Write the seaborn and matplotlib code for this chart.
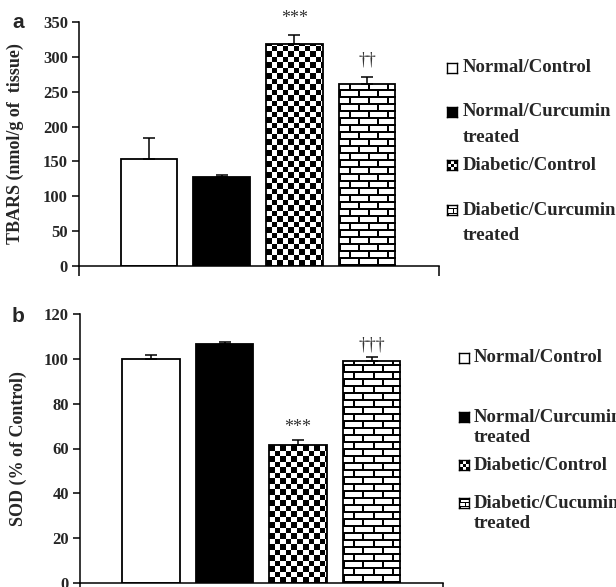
import numpy as np
import pandas as pd
import seaborn as sns
import matplotlib.pyplot as plt

sns.set_theme(style='ticks')
plt.rcParams['font.family'] = ['Liberation Serif', 'DejaVu Serif']
plt.rcParams['font.weight'] = 'bold'

W, H = 616, 587

groups = ['Normal/Control', 'Normal/Curcumin treated',
          'Diabetic/Control', 'Diabetic/Curcumin treated']
fills = ['white', 'black', 'checker', 'brick']

tbars = [153, 127, 318, 261]
tbars_err = [31, 3, 13, 10]
tbars_ticks = [0, 50, 100, 150, 200, 250, 300, 350]
tbars_marks = ['', '', '***', '\u2020\u2020']

sod = [100, 106.5, 61.5, 99]
sod_err = [1.8, 0.9, 2.2, 1.8]
sod_ticks = [0, 20, 40, 60, 80, 100, 120]
sod_marks = ['', '', '***', '\u2020\u2020\u2020']

legend_a = [['Normal/Control'], ['Normal/Curcumin', 'treated'],
            ['Diabetic/Control'], ['Diabetic/Curcumin', 'treated']]
legend_b = [['Normal/Control'], ['Normal/Curcumin', 'treated'],
            ['Diabetic/Control'], ['Diabetic/Cucumin', 'treated']]


def pattern(kind, w, h, scale=1.0):
    """0 = black, 1 = white pixel mask for a bar fill."""
    yy, xx = np.mgrid[0:h, 0:w]
    if kind == 'white':
        return np.ones((h, w))
    if kind == 'black':
        return np.zeros((h, w))
    if kind == 'checker':
        c = 5.5 * scale
        return ((xx // c + yy // c) % 2).astype(float)
    # brick
    bh, bw = 7.0 * scale, 19.0 * scale
    row = yy // bh
    off = (row % 2) * bw / 2
    mortar = ((yy % bh) < 2 * scale) | (((xx + off) % bw) < 2 * scale)
    return (~mortar).astype(float)


def fill_bar(ax, bar, kind):
    bb = bar.get_window_extent()
    w, h = max(int(round(bb.width)), 1), max(int(round(bb.height)), 1)
    x0, y0 = bar.get_x(), bar.get_y()
    im = ax.imshow(pattern(kind, w, h), cmap='gray', vmin=0, vmax=1,
                   extent=(x0, x0 + bar.get_width(), y0 + bar.get_height(), y0),
                   aspect='auto', interpolation='nearest', zorder=0.9)
    im.set_clip_path(bar)
    bar.set_facecolor('none')


def panel(rect, values, errs, ticks, marks, ylabel, mark_off, xlim, lab_x):
    ax = fig.add_axes(rect)
    df = pd.DataFrame({'group': groups, 'value': values})
    pal = {g: ('black' if f == 'black' else 'white') for g, f in zip(groups, fills)}
    sns.barplot(data=df, x='group', y='value', hue='group', order=groups,
                hue_order=groups, palette=pal, legend=False, errorbar=None,
                width=0.78, edgecolor='black', linewidth=1.3, ax=ax)
    ax.set_xlim(*xlim)
    ax.set_ylim(ticks[0], ticks[-1])
    bars = sorted(ax.patches, key=lambda p: p.get_x())
    xs = [b.get_x() + b.get_width() / 2 for b in bars]
    for b, f in zip(bars, fills):
        if f in ('checker', 'brick'):
            fill_bar(ax, b, f)
    ax.set_xlim(*xlim)
    ax.set_ylim(ticks[0], ticks[-1])
    ax.errorbar(xs, values, yerr=[np.zeros(len(errs)), errs], fmt='none',
                ecolor='black', elinewidth=1.1, capsize=4, capthick=1.1, zorder=3)
    for x, v, e, m in zip(xs, values, errs, marks):
        if m:
            ax.annotate(m, (x, v + e), xytext=(0, mark_off), textcoords='offset points',
                        ha='center', va='center', fontsize=13, fontweight='normal',
                        color='#333333')
    ax.set_yticks(ticks)
    ax.set_yticklabels([str(t) for t in ticks], fontsize=12, fontweight='bold')
    ax.set_xticks(list(xlim))
    ax.set_xticklabels([])
    ax.set_xlabel('')
    ax.set_ylabel(ylabel, fontsize=13, fontweight='bold')
    ax.yaxis.set_label_coords(lab_x, 0.5)
    ax.tick_params(axis='y', direction='out', length=5, width=1.1, color='black', pad=3)
    ax.tick_params(axis='x', direction='out', length=7, width=1.1, color='black')
    for s in ['top', 'right']:
        ax.spines[s].set_visible(False)
    for s in ['left', 'bottom']:
        ax.spines[s].set_linewidth(1.1)
        ax.spines[s].set_color('black')
    return ax


def draw_legend(rows, x_icon, x_text, ys, line_gap, size=10, fs=13.5):
    for lines, kind, y in zip(rows, fills, ys):
        iax = fig.add_axes([x_icon / W, 1 - (y + size / 2) / H, size / W, size / H])
        iax.imshow(pattern(kind, size, size, 0.55), cmap='gray', vmin=0, vmax=1,
                   aspect='auto', interpolation='nearest')
        iax.set_xticks([])
        iax.set_yticks([])
        for sp in iax.spines.values():
            sp.set_linewidth(1)
            sp.set_color('black')
        for i, line in enumerate(lines):
            fig.text(x_text / W, 1 - (y + i * line_gap) / H, line, fontsize=fs,
                     fontweight='bold', ha='left', va='center')


fig = plt.figure(figsize=(W / 100, H / 100), dpi=100)
fig.patch.set_facecolor('white')

panel([79 / W, 1 - 266 / H, 360 / W, 244 / H], tbars, tbars_err, tbars_ticks,
      tbars_marks, 'TBARS (nmol/g of  tissue)', 12, (-0.963, 3.99), -0.153)
panel([80 / W, 1 - 583 / H, 363 / W, 269 / H], sod, sod_err, sod_ticks,
      sod_marks, 'SOD (% of Control)', 9, (-0.966, 3.97), -0.146)

draw_legend(legend_a, 447, 463, [68, 112, 165, 210], 25)
draw_legend(legend_b, 459, 474, [358, 417, 465, 503], 20)

fig.text(12 / W, 1 - 23 / H, 'a', fontsize=15, fontweight='bold',
         family=['Liberation Sans', 'DejaVu Sans'], ha='left', va='center')
fig.text(12 / W, 1 - 316 / H, 'b', fontsize=15, fontweight='bold',
         family=['Liberation Sans', 'DejaVu Sans'], ha='left', va='center')

fig.savefig('out.png', dpi=100)
